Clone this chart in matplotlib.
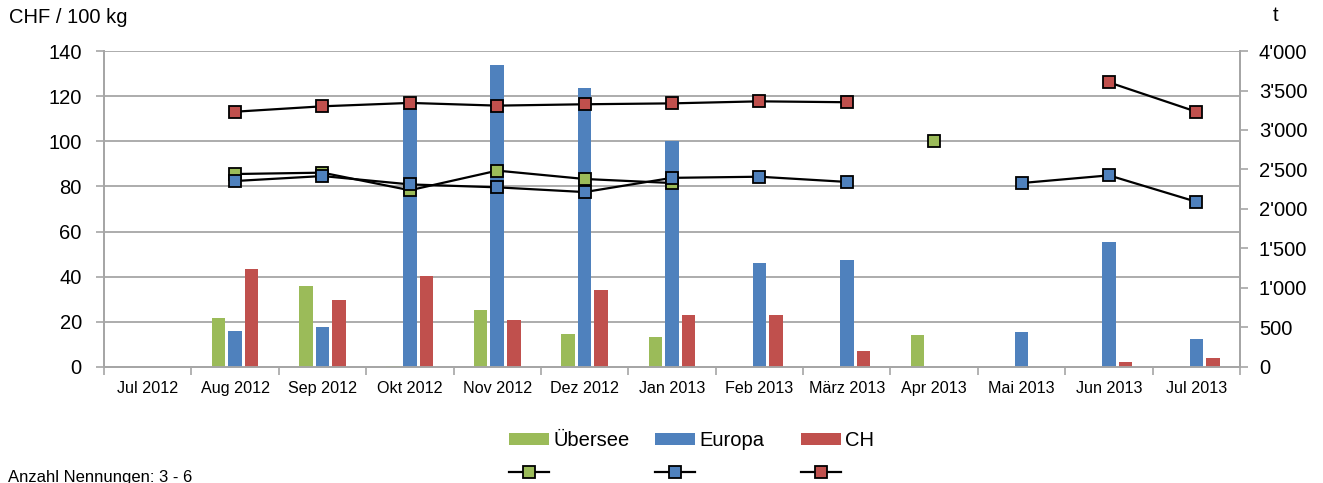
import numpy as np
import matplotlib
matplotlib.use("Agg")
import matplotlib.pyplot as plt
from matplotlib.ticker import FuncFormatter, FixedLocator

plt.rcParams['font.family'] = ['Liberation Sans', 'DejaVu Sans']

months = ["Jul 2012", "Aug 2012", "Sep 2012", "Okt 2012", "Nov 2012", "Dez 2012",
          "Jan 2013", "Feb 2013", "März 2013", "Apr 2013", "Mai 2013", "Jun 2013", "Jul 2013"]
nan = np.nan

# quantities in t (bars, right axis)
qty_uebersee = [nan, 616, 1025, 15, 717, 418, 380, nan, nan, 401, nan, nan, nan]
qty_europa = [nan, 452, 502, 3262, 3823, 3528, 2861, 1312, 1350, nan, 443, 1578, 354]
qty_ch = [nan, 1240, 848, 1152, 595, 971, 654, 658, 198, nan, nan, 59, 114]

# prices in CHF / 100 kg (lines, left axis)
price_uebersee = [nan, 85.5, 86.1, 78.3, 87.0, 83.3, 81.5, nan, nan, 100.0, nan, nan, nan]
price_europa = [nan, 82.4, 84.6, 80.9, 79.6, 77.5, 83.8, 84.3, 82.0, nan, 81.5, 84.9, 73.2]
price_ch = [nan, 113.1, 115.5, 117.0, 115.8, 116.4, 116.8, 117.7, 117.3, nan, nan, 126.1, 113.1]

series = ["Übersee", "Europa", "CH"]

green, blue, red = "#9BBB59", "#4F81BD", "#C0504D"
grid_col = "#A6A6A6"

fig = plt.figure(figsize=(13.23, 4.83), dpi=100)
ax = fig.add_axes([0.0786, 0.2402, 0.8587, 0.6542])
ax2 = ax.twinx()   # bars, t
ax3 = ax.twinx()   # price lines, same scale as left axis

x = np.arange(len(months))
bw = 0.155
off = 0.19
b1 = ax2.bar(x - off, qty_uebersee, bw, color=green)
b2 = ax2.bar(x, qty_europa, bw, color=blue)
b3 = ax2.bar(x + off, qty_ch, bw, color=red)

mk = dict(marker="s", markersize=8, markeredgecolor="black", markeredgewidth=1.3,
          color="black", linewidth=1.6)
l1, = ax3.plot(x, price_uebersee, markerfacecolor=green, **mk)
l2, = ax3.plot(x, price_europa, markerfacecolor=blue, **mk)
l3, = ax3.plot(x, price_ch, markerfacecolor=red, **mk)

ax.set_xlim(-0.5, len(months) - 0.5)
ax.set_ylim(0, 140)
ax3.set_ylim(0, 140)
ax.set_yticks(np.arange(0, 141, 20))
ax2.set_ylim(0, 4000)
ax2.set_yticks(np.arange(0, 4001, 500))
ax2.yaxis.set_major_formatter(FuncFormatter(lambda v, p: f"{int(v):,}".replace(",", "'")))

ax.grid(axis="y", color=grid_col, linewidth=1.3)

ax.xaxis.set_major_locator(FixedLocator(np.arange(-0.5, len(months), 1)))
ax.xaxis.set_minor_locator(FixedLocator(x))
ax.set_xticklabels([], minor=False)
ax.set_xticklabels(months, minor=True)
ax.tick_params(axis="x", which="major", length=6, color=grid_col, width=1.2)
ax.tick_params(axis="x", which="minor", length=0, labelsize=11.6, pad=10)
ax.tick_params(axis="y", length=6, color=grid_col, width=1.2, labelsize=14.5, pad=10)
ax2.tick_params(axis="y", length=6, color=grid_col, width=1.2, labelsize=14.5, pad=7.5)
ax2.tick_params(axis="x", bottom=False, labelbottom=False)
ax3.set_axis_off()

for a in (ax, ax2):
    a.spines["top"].set_visible(False)
    for s in ("left", "right", "bottom"):
        a.spines[s].set_color(grid_col)
        a.spines[s].set_linewidth(1.3)

fig.text(0.007, 0.963, "CHF / 100 kg", fontsize=14.5, va="center", ha="left")
fig.text(0.964, 0.968, "t", fontsize=14.5, va="center", ha="center")
fig.text(0.006, 0.0124, "Anzahl Nennungen: 3 - 6", fontsize=12, va="center", ha="left")

# legend: one column per series, bar patch above its price line
legend_x = [509, 655, 801]
for bars, line, name, lx in zip([b1, b2, b3], [l1, l2, l3], series, legend_x):
    leg = fig.legend([bars, line], [name, ""], loc="upper left",
                     bbox_to_anchor=(lx / 1323, 0.1077), frameon=False, fontsize=14.5,
                     handlelength=2.0, handleheight=0.55, handletextpad=0.2,
                     labelspacing=0.7, borderpad=0, borderaxespad=0)

fig.savefig("out.png", dpi=100)
